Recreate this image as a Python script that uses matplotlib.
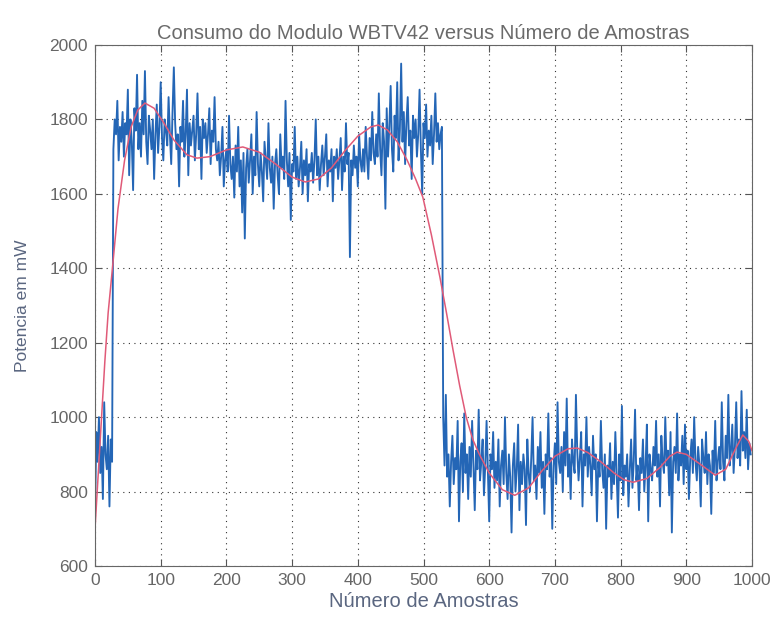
import numpy as np
import matplotlib.pyplot as plt

# medidas do modulo (uma amostra a cada 2)
start_vals = [730, 960, 880, 1000, 850, 920, 780, 1040, 900, 860, 950, 760, 940, 880]

high_vals = [
    1720, 1800, 1760, 1850, 1690, 1780, 1740, 1820, 1700, 1790,
    1760, 1880, 1650, 1800, 1740, 1610, 1830, 1770, 1920, 1720,
    1790, 1700, 1850, 1760, 1930, 1740, 1680, 1810, 1770, 1720,
    1800, 1640, 1760, 1840, 1710, 1780, 1900, 1750, 1690, 1800,
    1770, 1730, 1860, 1760, 1680, 1820, 1940, 1790, 1720, 1760,
    1620, 1780, 1740, 1850, 1700, 1760, 1880, 1650, 1790, 1730,
    1770, 1810, 1690, 1760, 1870, 1720, 1780, 1640, 1800, 1750,
    1790, 1710, 1760, 1830, 1680, 1770, 1740, 1860, 1720, 1690,
    1740, 1650, 1700, 1780, 1620, 1690, 1720, 1660, 1810, 1680,
    1640, 1700, 1590, 1730, 1660, 1780, 1620, 1690, 1550, 1710,
    1480, 1670, 1720, 1630, 1690, 1760, 1600, 1700, 1650, 1820,
    1680, 1620, 1710, 1660, 1580, 1740, 1690, 1640, 1790, 1670,
    1630, 1700, 1560, 1680, 1720, 1650, 1600, 1760, 1670, 1700,
    1640, 1850, 1690, 1620, 1710, 1530, 1680, 1660, 1780, 1640,
    1700, 1620, 1670, 1740, 1600, 1690, 1650, 1720, 1580, 1680,
    1660, 1710, 1630, 1690, 1800, 1650, 1700, 1610, 1680, 1730,
    1650, 1700, 1760, 1620, 1690, 1660, 1720, 1580, 1700, 1670,
    1720, 1640, 1690, 1750, 1610, 1700, 1660, 1790, 1680, 1710,
    1430, 1690, 1650, 1730, 1670, 1700, 1620, 1760, 1690, 1660,
    1720, 1660, 1780, 1700, 1640, 1750, 1690, 1820, 1710, 1680,
    1760, 1700, 1870, 1720, 1650, 1790, 1740, 1560, 1830, 1700,
    1780, 1890, 1720, 1660, 1810, 1750, 1900, 1690, 1770, 1950,
    1740, 1820, 1680, 1790, 1860, 1730, 1770, 1640, 1810, 1750,
    1800, 1700, 1760, 1880, 1720, 1600, 1790, 1750, 1840, 1700,
    1770, 1730, 1810, 1680, 1760, 1870, 1740, 1790, 1720, 1760,
    1780,
]

low_vals = [
    1000, 870, 1060, 840, 900, 760, 880, 950, 820, 890,
    860, 990, 720, 880, 930, 800, 1010, 850, 900, 780,
    920, 840, 990, 870, 750, 910, 860, 1020, 830, 880,
    940, 790, 870, 990, 850, 720, 900, 860, 960, 810,
    880, 830, 940, 760, 870, 910, 820, 1000, 850, 780,
    900, 840, 690, 870, 930, 800, 860, 980, 750, 880,
    820, 900, 860, 710, 940, 850, 800, 890, 1000, 830,
    870, 780, 920, 850, 960, 810, 880, 740, 900, 860,
    1010, 840, 890, 700, 870, 930, 820, 1040, 880, 850,
    920, 800, 960, 870, 1050, 840, 900, 780, 940, 880,
    850, 1060, 910, 830, 890, 960, 760, 900, 870, 1000,
    840, 920, 870, 790, 950, 860, 900, 720, 880, 840,
    990, 860, 810, 900, 700, 870, 840, 930, 780, 880,
    820, 960, 850, 730, 900, 830, 1030, 790, 870, 840,
    900, 760, 860, 940, 810, 880, 1020, 830, 870, 750,
    890, 850, 940, 800, 870, 980, 720, 900, 860, 830,
    920, 870, 990, 840, 900, 760, 950, 880, 850, 1000,
    870, 910, 790, 960, 690, 880, 920, 850, 1010, 830,
    900, 870, 950, 820, 980, 860, 910, 780, 890, 940,
    850, 1000, 880, 830, 920, 870, 760, 940, 890, 850,
    960, 820, 900, 870, 740, 910, 850, 990, 830, 880,
    920, 860, 1040, 880, 830, 950, 890, 1060, 870, 910,
    980, 850, 920, 1040, 890, 940, 870, 1070, 910, 960,
    890, 1020, 860, 930, 900,
]

# curva ajustada
fit_x = [0, 5, 10, 15, 20, 26, 35, 45, 55, 65, 76, 90, 105, 120, 140, 155,
         175, 200, 225, 250, 275, 300, 320, 340, 360, 380, 400, 420, 431,
         445, 460, 475, 488, 499, 512, 525, 535, 545, 555, 565, 575, 585,
         600, 620, 639, 660, 680, 700, 720, 734, 750, 770, 790, 805, 819,
         840, 860, 875, 886, 900, 920, 944, 960, 975, 986, 995, 1000]
fit_y = [700, 850, 1000, 1150, 1280, 1390, 1560, 1690, 1780, 1825, 1844,
         1830, 1790, 1745, 1705, 1696, 1700, 1718, 1726, 1712, 1680, 1645,
         1632, 1640, 1670, 1715, 1755, 1780, 1785, 1772, 1740, 1691, 1640,
         1591, 1490, 1376, 1280, 1180, 1085, 1000, 940, 900, 850, 805, 790,
         810, 855, 895, 915, 917, 905, 880, 850, 832, 825, 835, 865, 895,
         906, 900, 875, 844, 860, 915, 952, 935, 910]

signal = np.array(start_vals + high_vals + low_vals)
n = np.arange(len(signal)) * 2

dpi = 100
fig = plt.figure(figsize=(775/dpi, 618/dpi), dpi=dpi)
ax = fig.add_axes([95/775, 1-566/618, 657/775, 521/618])
plt.rcParams['font.family'] = ['Liberation Sans', 'DejaVu Sans']

ax.plot(n, signal, color='#2466b6', lw=1.35)
ax.plot(fit_x, fit_y, color='#e05a78', lw=1.1)

ax.set_xlim(0, 1000)
ax.set_ylim(600, 2000)
ax.set_xticks(np.arange(0, 1001, 100))
ax.set_yticks(np.arange(600, 2001, 200))
ax.grid(True, color='#333333', linestyle=(0, (1, 4)), lw=0.8)
ax.tick_params(direction='in', top=True, right=True, length=5, pad=5,
               labelsize=12.5, labelcolor='#666666', color='#555555')
for s in ax.spines.values():
    s.set_color('#666666')

ax.set_title('Consumo do Modulo WBTV42 versus Número de Amostras',
             fontsize=14.5, color='#6a6a6a', pad=4, family='Liberation Sans')
ax.set_xlabel('Número de Amostras', fontsize=14.5, color='#5a6680',
              family='Liberation Sans', labelpad=3)
ax.set_ylabel('Potencia em mW', fontsize=12.5, color='#5a6680',
              family='Liberation Sans', labelpad=14)
for lab in ax.get_xticklabels() + ax.get_yticklabels():
    lab.set_family('Liberation Sans')

plt.savefig('out.png', dpi=dpi)
